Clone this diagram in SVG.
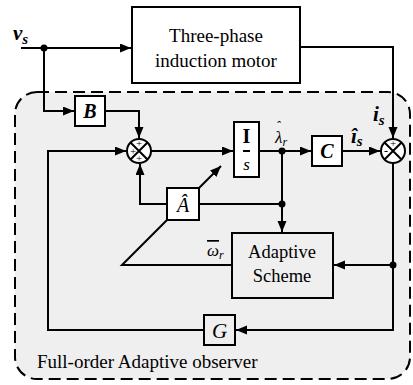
<svg xmlns="http://www.w3.org/2000/svg" width="413" height="385" viewBox="0 0 413 385">
<style>
.ln{fill:none;stroke:#000;stroke-width:2}
.bx{fill:#fff;stroke:#000;stroke-width:2}
.bxg{fill:#efefef;stroke:#000;stroke-width:2}
.bi{font-weight:bold;font-style:italic}
.it{font-style:italic}
</style>
<defs>
<marker id="ar" markerWidth="12" markerHeight="10" refX="11" refY="4.5" orient="auto" markerUnits="userSpaceOnUse">
<path d="M0,0 L11,4.5 L0,9 z" fill="#000"/>
</marker>
</defs>
<rect width="413" height="385" fill="#fff"/>
<g font-family="Liberation Serif, Times New Roman, serif">
<g id="observer-frame">
<rect x="15" y="92" width="395" height="287" rx="22" ry="22" fill="#efefef" stroke="#000" stroke-width="2" stroke-dasharray="12,6"/>
<text x="37" y="368" font-size="19">Full-order Adaptive observer</text>
</g>
<g id="connectors">
<path class="ln" d="M21,48 H131" marker-end="url(#ar)"/>
<path class="ln" d="M44,48 V111 H74" marker-end="url(#ar)"/>
<path class="ln" d="M105,111 H139 V138" marker-end="url(#ar)"/>
<path class="ln" d="M151,151 H233" marker-end="url(#ar)"/>
<path class="ln" d="M259,151 H311" marker-end="url(#ar)"/>
<path class="ln" d="M342,151 H380" marker-end="url(#ar)"/>
<path class="ln" d="M300,47 H393 V138" marker-end="url(#ar)"/>
<path class="ln" d="M393,163 V330 H236" marker-end="url(#ar)"/>
<path class="ln" d="M393,265 H334" marker-end="url(#ar)"/>
<path class="ln" d="M204,330 H48 V151 H126" marker-end="url(#ar)"/>
<path class="ln" d="M282,151 V232" marker-end="url(#ar)"/>
<path class="ln" d="M199,204 H282"/>
<path class="ln" d="M167,204 H140 V164" marker-end="url(#ar)"/>
<path class="ln" d="M199,188 L221,166" marker-end="url(#ar)"/>
<path class="ln" d="M167,220 L122,265 H232"/>
<circle cx="44" cy="48" r="3.5"/>
<circle cx="282" cy="151" r="3.5"/>
<circle cx="282" cy="204" r="3.5"/>
<circle cx="393" cy="265" r="3.5"/>
<text class="bi" x="13" y="40" font-size="21">v<tspan font-size="15" dy="4">s</tspan></text>
<text class="bi" x="373" y="121" font-size="21">i<tspan font-size="15" dy="4">s</tspan></text>
<text class="bi" x="351" y="143" font-size="21">î<tspan font-size="15" dy="3">s</tspan></text>
<text class="it" x="275" y="143" font-size="17">λ<tspan font-size="12" dy="3">r</tspan></text>
<text class="it" x="276" y="130" font-size="13">ˆ</text>
<text class="it" x="207" y="256" font-size="17"><tspan text-decoration="overline">ω</tspan><tspan font-size="12" dy="3">r</tspan></text>
</g>
<g id="motor">
<rect class="bx" x="132" y="7" width="168" height="76"/>
<text x="216" y="42" font-size="19" text-anchor="middle">Three-phase</text>
<text x="216" y="67" font-size="19" text-anchor="middle">induction motor</text>
</g>
<g id="B">
<rect class="bx" x="75" y="96" width="30" height="30"/>
<text class="bi" x="90" y="118" font-size="20" text-anchor="middle">B</text>
</g>
<g id="sum1">
<circle class="bx" cx="139" cy="151" r="12"/>
<path class="ln" stroke-width="1.5" d="M130.5,142.5 L147.5,159.5 M147.5,142.5 L130.5,159.5"/>
<text x="139" y="147" font-size="11" text-anchor="middle">+</text>
<text x="133" y="155" font-size="11" text-anchor="middle">+</text>
<text x="139" y="162" font-size="11" text-anchor="middle">+</text>
</g>
<g id="integrator">
<rect class="bx" x="234" y="122" width="25" height="55"/>
<text x="246.5" y="143" font-size="20" font-weight="bold" text-anchor="middle">I</text>
<path class="ln" stroke-width="1" d="M243,151 H250"/>
<text class="it" x="246.5" y="170" font-size="17" text-anchor="middle">s</text>
</g>
<g id="C">
<rect class="bx" x="312" y="136" width="30" height="30"/>
<text class="bi" x="327" y="158" font-size="20" text-anchor="middle">C</text>
</g>
<g id="sum2">
<circle class="bx" cx="393" cy="151" r="12"/>
<path class="ln" stroke-width="1.5" d="M384.5,142.5 L401.5,159.5 M401.5,142.5 L384.5,159.5"/>
<text x="393" y="147" font-size="11" text-anchor="middle">+</text>
<text x="386" y="155" font-size="12" text-anchor="middle">-</text>
</g>
<g id="A">
<rect class="bx" x="167" y="188" width="32" height="32"/>
<text class="it" x="183" y="212" font-size="20" text-anchor="middle">Â</text>
</g>
<g id="adaptive-scheme">
<rect class="bxg" x="232" y="233" width="101" height="65"/>
<text x="282" y="258" font-size="18.5" text-anchor="middle">Adaptive</text>
<text x="282" y="282" font-size="18.5" text-anchor="middle">Scheme</text>
</g>
<g id="G">
<rect class="bxg" x="204" y="315" width="31" height="30"/>
<text class="it" x="219.5" y="338" font-size="21" text-anchor="middle">G</text>
</g>
</g>
</svg>
